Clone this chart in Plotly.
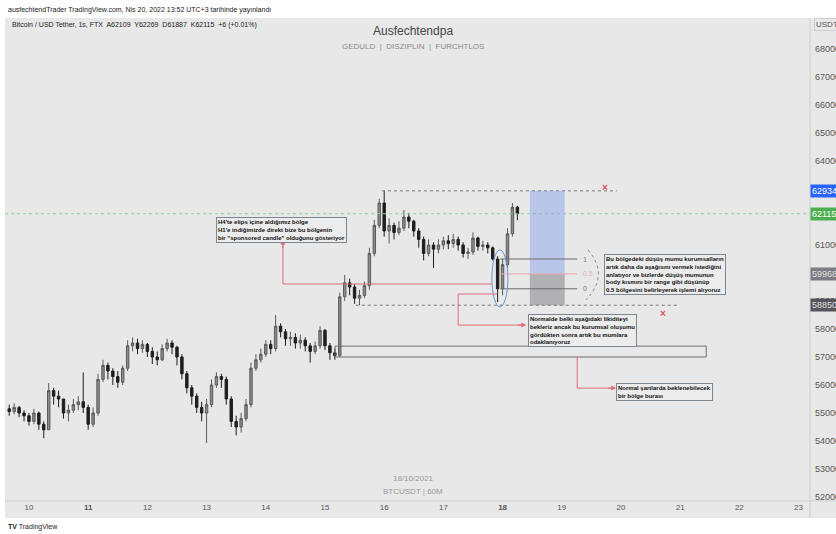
import plotly.graph_objects as go
import pandas as pd

# ---------------- data (2-hour candles, BTCUSDT) ----------------
start_time = "2021-10-09 16:00"
open0 = 55150
closes = [55050,55200,55000,54900,54700,55000,54600,54400,55800,55600,
          55500,55000,55100,55300,55400,55200,54600,55000,56200,56700,
          56500,56300,56100,56600,57400,57500,57300,57450,57200,57000,
          56900,57300,57500,57350,57000,56400,55900,55600,55200,55000,
          55300,56000,56300,56200,55500,54700,54500,54800,55300,56600,
          56900,57100,57450,57300,58100,57900,57650,57700,57500,57600,
          57400,57200,57400,57950,57400,57150,57050,59150,59650,59500,
          59100,59200,59550,60700,61700,62500,61500,61700,61450,61600,
          62000,61850,61500,61200,60700,61000,60850,61000,61150,61050,
          61200,61000,60700,60750,61250,60950,61000,60900,60500,59436,
          60300,61400,62350,62115]
highs = [55300,55350,55250,55100,55000,55150,55050,54700,56070,55900,
         55800,55500,55300,55500,55600,56450,55300,55200,56400,56900,
         56800,56600,56500,56700,57600,57700,57650,57600,57500,57350,
         57200,57450,57650,57600,57400,57100,56500,56000,55700,55400,
         55500,56200,56450,56400,56300,55600,54900,55000,55500,56800,
         57100,57300,57600,57600,58500,58200,58000,57900,57850,57800,
         57700,57500,57550,58100,58000,57500,57300,59300,59930,59800,
         59600,59400,59700,60900,61900,62650,62934,61950,61800,61850,
         62250,62150,61900,61600,61300,61200,61100,61200,61300,61350,
         61400,61300,61100,60900,61450,61300,61150,61100,60950,60600,
         60500,61600,62500,62400]
lows = [54900,54950,54850,54700,54550,54600,54400,54100,54400,55300,
        55200,54800,54700,55000,55100,55000,54400,54500,54900,56100,
        56200,56000,55900,56000,56500,57200,57100,57150,57000,56750,
        56700,56850,57200,57100,56700,56200,55700,55300,55000,54700,
        53930,55200,55900,55900,55300,54500,54200,54300,54700,55200,
        56500,56800,57000,57100,57200,57700,57400,57400,57300,57300,
        57200,56800,57100,57300,57250,56900,56900,57000,59000,59200,
        58900,58850,59100,59400,60600,61600,61300,61050,61200,61350,
        61500,61600,61300,60900,60450,60600,60180,60700,60850,60850,
        60900,60800,60550,60500,60650,60800,60800,60700,60450,58960,
        59200,60200,61300,61887]
opens = [open0] + closes[:-1]
times = pd.date_range(start_time, periods=len(closes), freq="2h")

day_ticks = list(range(10, 24))
bold_days = [11, 18]
price_ticks = [52000, 53000, 54000, 55000, 56000, 57000, 58000, 59000, 61000,
               64000, 65000, 66000, 67000, 68000]

last_price = 62115
target_price = 62934
entry_price = 59968
stop_price = 58850
fib_one = 60500
fib_zero = 59436
zone_low, zone_high = 57000, 57390

BG = "#e8e8e8"
RED = "#e06a78"

def T(day):
    return (pd.Timestamp("2021-10-01") + pd.Timedelta(days=day - 1)).strftime("%Y-%m-%d %H:%M:%S")

def P(px, py):
    return (px - 5) / 805, (501 - py) / 481

fig = go.Figure()
fig.add_trace(go.Candlestick(
    x=times, open=opens, high=highs, low=lows, close=closes,
    increasing=dict(line=dict(color="#5a5a5a", width=1), fillcolor="#8c8c8c"),
    decreasing=dict(line=dict(color="#1e1e1e", width=1), fillcolor="#1e1e1e"),
    whiskerwidth=0, showlegend=False, hoverinfo="skip"))

shapes = []
shapes.append(dict(type="rect", xref="paper", yref="paper", x0=P(5, 0)[0], x1=P(836, 0)[0],
                   y0=P(0, 518)[1], y1=P(0, 18)[1], fillcolor=BG, line=dict(width=0), layer="below"))
shapes.append(dict(type="line", xref="paper", yref="paper", x0=1, x1=1, y0=P(0, 518)[1], y1=P(0, 18)[1],
                   line=dict(color="#cfcfcf", width=1)))
shapes.append(dict(type="line", xref="paper", yref="paper", x0=0, x1=P(836, 0)[0], y0=0, y1=0,
                   line=dict(color="#cfcfcf", width=1)))
shapes.append(dict(type="line", xref="paper", yref="y", x0=0, x1=1, y0=last_price, y1=last_price,
                   line=dict(color="#8fd19c", width=1, dash="dot")))
shapes.append(dict(type="line", x0=T(15.963), x1=T(19.93), y0=target_price, y1=target_price,
                   line=dict(color="#777", width=1, dash="dot")))
shapes.append(dict(type="line", x0=T(15.52), x1=T(20.96), y0=stop_price, y1=stop_price,
                   line=dict(color="#777", width=1, dash="dot")))
shapes.append(dict(type="rect", x0=T(18.46), x1=T(19.05), y0=entry_price, y1=target_price,
                   fillcolor="rgba(120,150,235,0.42)", line=dict(width=0)))
shapes.append(dict(type="rect", x0=T(18.46), x1=T(19.05), y0=stop_price, y1=entry_price,
                   fillcolor="rgba(110,110,115,0.45)", line=dict(width=0)))
shapes.append(dict(type="rect", x0=T(15.17), x1=T(21.44), y0=zone_low, y1=zone_high,
                   fillcolor="rgba(0,0,0,0)", line=dict(color="#6e6e6e", width=1)))
shapes.append(dict(type="line", x0=T(17.96), x1=T(19.26), y0=fib_one, y1=fib_one, line=dict(color="#6a6a6a", width=1)))
shapes.append(dict(type="line", x0=T(17.96), x1=T(19.26), y0=entry_price, y1=entry_price, line=dict(color="#e9a9b0", width=1)))
shapes.append(dict(type="line", x0=T(17.96), x1=T(19.26), y0=fib_zero, y1=fib_zero, line=dict(color="#6a6a6a", width=1)))
shapes.append(dict(type="circle", x0=T(17.82), x1=T(18.09), y0=58790, y1=60820,
                   line=dict(color="#6d8fe0", width=1)))
a = P(588, 250); b = P(600, 275); c = P(586, 300)
shapes.append(dict(type="path", xref="paper", yref="paper",
                   path=f"M {a[0]},{a[1]} Q {b[0]+0.012},{b[1]} {c[0]},{c[1]}",
                   line=dict(color="#888", width=1, dash="dot")))

def seg(d0, p0, d1, p1):
    shapes.append(dict(type="line", x0=T(d0), x1=T(d1), y0=p0, y1=p1, line=dict(color=RED, width=1)))
seg(17.82, 59607, 14.29, 59607); seg(14.29, 59607, 14.29, 61150)
seg(17.905, 59250, 17.25, 59250); seg(17.25, 59250, 17.25, 58140); seg(17.25, 58140, 18.36, 58140)
seg(19.26, zone_low, 19.26, 55890); seg(19.26, 55890, 19.88, 55890)

annotations = []
def arrow(day, price, ax, ay):
    annotations.append(dict(x=T(day), y=price, ax=ax, ay=ay, text="", showarrow=True,
                            arrowhead=2, arrowsize=1, arrowwidth=1, arrowcolor=RED))
arrow(14.29, 61200, 0, 10)
arrow(18.40, 58140, -10, 0)
arrow(19.92, 55890, -10, 0)

def tbox(day, price, lines):
    annotations.append(dict(x=T(day), y=price, text="<br>".join("<b>" + l + "</b>" for l in lines),
                            showarrow=False, xanchor="left", yanchor="top", align="left",
                            font=dict(size=6, color="#111", family="Liberation Sans"),
                            bordercolor="#7d8590", borderwidth=1, borderpad=1, bgcolor="#ececec"))
tbox(13.16, 62000, ["H4'te elips içine aldığımız bölge",
                    "H1'e indiğimizde direkt bize bu bölgenin",
                    "bir \"sponsored candle\" olduğunu gösteriyor"])
tbox(19.71, 60679, ["Bu bölgedeki düşüş mumu kurumsalların",
                    "artık daha da aşağısını vermek istediğini",
                    "anlatıyor ve bizlerde düşüş mumunun",
                    "body kısmını bir range gibi düşünüp",
                    "0.5 bölgesini belirleyerek işlemi alıyoruz"])
tbox(18.43, 58536, ["Normalde belki aşağıdaki likiditeyi",
                    "bekleriz ancak bu kurumsal oluşumu",
                    "gördükten sonra artık bu mumlara",
                    "odaklanıyoruz"])
tbox(19.92, 56071, ["Normal şartlarda beklenebilecek",
                    "bir bölge burası"])

for d, p in [(19.73, 63040), (20.71, 58570)]:
    annotations.append(dict(x=T(d), y=p, text="<b>×</b>", showarrow=False,
                            font=dict(size=10, color="#e0505a")))
for txt, p, col in [("1", fib_one, "#777"), ("0.5", entry_price, "#e2b5ba"), ("0", fib_zero, "#777")]:
    annotations.append(dict(x=T(19.33), y=p, text=txt, showarrow=False, xanchor="left",
                            font=dict(size=7, color=col)))

for val, bg, fc in [(target_price, "#2962ff", "#ffffff"), (last_price, "#4caf50", "#ffffff"),
                    (entry_price, "#7c7c84", "#e0e0e0"), (stop_price, "#55555c", "#e0e0e0")]:
    annotations.append(dict(xref="paper", x=1.0, y=val, yref="y", text=str(val), showarrow=False,
                            xanchor="left", yanchor="middle", font=dict(size=9, color=fc),
                            bgcolor=bg, borderpad=1, width=30, align="left"))

def ptext(px, py, text, size, color, anchor="left"):
    x, y = P(px, py)
    annotations.append(dict(xref="paper", yref="paper", x=x, y=y, text=text, showarrow=False,
                            xanchor=anchor, yanchor="middle", font=dict(size=size, color=color)))

ptext(6, 10, "ausfechtendTrader TradingView.com, Nis 20, 2022 13:52 UTC+3 tarihinde yayınlandı", 7, "#222")
ptext(10, 25, "Bitcoin / USD Tether, 1s, FTX  A62109  Y62269  D61887  K62115  +6 (+0.01%)", 7, "#222")
ptext(413, 31, "Ausfechtendpa", 12, "#444", "center")
ptext(413, 47, "GEDULD  |  DISZIPLIN  |  FURCHTLOS", 8, "#8a8a8a", "center")
ptext(413, 478, "18/10/2021", 8, "#9a9a9a", "center")
ptext(413, 491, "BTCUSDT | 60M", 8, "#9a9a9a", "center")
ptext(6, 527, "<b>TV</b> TradingView", 7, "#222")
ux, uy = P(814, 25)
annotations.append(dict(xref="paper", yref="paper", x=ux, y=uy, text="USDT", showarrow=False,
                        xanchor="left", yanchor="middle", font=dict(size=8, color="#555"),
                        bordercolor="#cfcfcf", borderwidth=1, borderpad=1, bgcolor=BG))

ticktext = [("<b>%d</b>" % d) if d in bold_days else str(d) for d in day_ticks]

fig.update_layout(
    width=836, height=534,
    margin=dict(l=5, r=26, t=20, b=33),
    paper_bgcolor="#ffffff", plot_bgcolor=BG,
    font=dict(family="Liberation Sans, Arial, sans-serif"),
    shapes=shapes, annotations=annotations,
    xaxis=dict(range=[T(9.595), T(23.193)], type="date", rangeslider=dict(visible=False),
               tickvals=[T(d) for d in day_ticks], ticktext=ticktext,
               showgrid=False, zeroline=False, showline=False, ticks="",
               tickfont=dict(size=8, color="#555")),
    yaxis=dict(range=[51857, 69036], side="right", tickvals=price_ticks,
               ticktext=[str(v) for v in price_ticks], showgrid=False, zeroline=False,
               showline=False, ticks="", ticklabelstandoff=4, automargin=False,
               tickfont=dict(size=9, color="#555")),
    showlegend=False,
)
fig.write_html("out.html", config={"displayModeBar": False},
               post_script="document.body.style.margin='0';document.body.style.overflow='hidden';")
